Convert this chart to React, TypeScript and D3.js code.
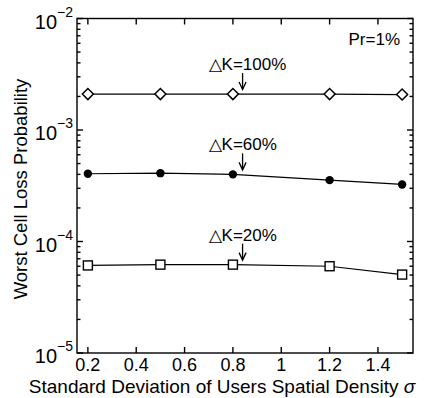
import React from "react";
import * as d3 from "d3";

const sigma = [0.2, 0.5, 0.8, 1.2, 1.5];
const dk100 = [2.1e-3, 2.1e-3, 2.1e-3, 2.1e-3, 2.08e-3];
const dk60 = [4.05e-4, 4.1e-4, 4.0e-4, 3.55e-4, 3.25e-4];
const dk20 = [6.1e-5, 6.2e-5, 6.2e-5, 6.0e-5, 5.05e-5];
const xTicks = [0.2, 0.4, 0.6, 0.8, 1, 1.2, 1.4];
const yExps = [-2, -3, -4, -5];
const labels = [
  { text: "\u25B3K=100%", y: 2.1e-3 },
  { text: "\u25B3K=60%", y: 4.0e-4 },
  { text: "\u25B3K=20%", y: 6.2e-5 },
];
const arrowX = 0.84;

const W = 435;
const H = 398;
const m = { left: 77, right: 22, top: 18.5, bottom: 45 };
const font = "'Liberation Sans', Arial, Helvetica, sans-serif";

const App = () => {
  const x = d3.scaleLinear().domain([0.155, 1.545]).range([m.left, W - m.right]);
  const y = d3.scaleLog().domain([1e-5, 1e-2]).range([H - m.bottom, m.top]);
  const line = d3
    .line<number>()
    .x((_, i) => x(sigma[i]))
    .y((d) => y(d));

  // minor log ticks 2..9 in each decade
  const minor: number[] = [];
  for (let e = -5; e < -2; e++) {
    for (let k = 2; k <= 9; k++) minor.push(k * Math.pow(10, e));
  }

  const x0 = x.range()[0];
  const x1 = x.range()[1];
  const yb = y.range()[0];
  const yt = y.range()[1];

  return (
    <svg width={W} height={H} style={{ position: "absolute", left: 0, top: 0 }}>
      <rect width={W} height={H} fill="#fff" />
      <g stroke="#000" strokeWidth={1.4} fill="none">
        <rect x={x0} y={yt} width={x1 - x0} height={yb - yt} />
        {xTicks.map((t) => (
          <g key={t}>
            <line x1={x(t)} x2={x(t)} y1={yb} y2={yb - 6} />
            <line x1={x(t)} x2={x(t)} y1={yt} y2={yt + 6} />
          </g>
        ))}
        {yExps.map((e) => (
          <g key={e}>
            <line x1={x0} x2={x0 + 6} y1={y(Math.pow(10, e))} y2={y(Math.pow(10, e))} />
            <line x1={x1} x2={x1 - 6} y1={y(Math.pow(10, e))} y2={y(Math.pow(10, e))} />
          </g>
        ))}
        {minor.map((v) => (
          <g key={v}>
            <line x1={x0} x2={x0 + 3.5} y1={y(v)} y2={y(v)} />
            <line x1={x1} x2={x1 - 3.5} y1={y(v)} y2={y(v)} />
          </g>
        ))}
      </g>

      <g fill="none" stroke="#000" strokeWidth={1.2}>
        <path d={line(dk100) || ""} />
        <path d={line(dk60) || ""} />
        <path d={line(dk20) || ""} />
      </g>

      {dk100.map((v, i) => {
        const cx = x(sigma[i]);
        const cy = y(v);
        return (
          <path
            key={"d" + i}
            d={`M${cx - 5.5},${cy}L${cx},${cy - 5.5}L${cx + 5.5},${cy}L${cx},${cy + 5.5}Z`}
            fill="#fff"
            stroke="#000"
            strokeWidth={1.5}
          />
        );
      })}
      {dk60.map((v, i) => (
        <circle key={"c" + i} cx={x(sigma[i])} cy={y(v)} r={4.2} fill="#000" />
      ))}
      {dk20.map((v, i) => (
        <rect
          key={"s" + i}
          x={x(sigma[i]) - 4.5}
          y={y(v) - 4.5}
          width={9}
          height={9}
          fill="#fff"
          stroke="#000"
          strokeWidth={1.4}
        />
      ))}

      <g fontFamily={font} fill="#000">
        {labels.map((l) => {
          const ay = y(l.y);
          const ax = x(arrowX);
          return (
            <g key={l.text}>
              <text x={ax - 34} y={ay - 24} fontSize={17}>
                {l.text}
              </text>
              <line x1={ax} x2={ax} y1={ay - 21} y2={ay - 5} stroke="#000" strokeWidth={1.3} />
              <path
                d={`M${ax - 3.5},${ay - 12}L${ax},${ay - 4.5}L${ax + 3.5},${ay - 12}`}
                fill="none"
                stroke="#000"
                strokeWidth={1.3}
              />
            </g>
          );
        })}
        <text x={400} y={45} fontSize={17} textAnchor="end">
          Pr=1%
        </text>

        {xTicks.map((t) => (
          <text key={t} x={x(t)} y={yb + 18} fontSize={18} textAnchor="middle">
            {t}
          </text>
        ))}
        {yExps.map((e) => (
          <text key={e} x={x0 - 4} y={y(Math.pow(10, e)) + 10} fontSize={20} textAnchor="end">
            10
            <tspan dy={-12} fontSize={14}>
              {"\u2212" + -e}
            </tspan>
          </text>
        ))}
        <text x={222} y={H - 5} fontSize={19} textAnchor="middle">
          Standard Deviation of Users Spatial Density{" "}
          <tspan fontStyle="italic">{"\u03C3"}</tspan>
        </text>
        <text
          transform={`translate(27,189) rotate(-90)`}
          fontSize={18.5}
          textAnchor="middle"
        >
          Worst Cell Loss Probability
        </text>
      </g>
    </svg>
  );
};

export default App;
